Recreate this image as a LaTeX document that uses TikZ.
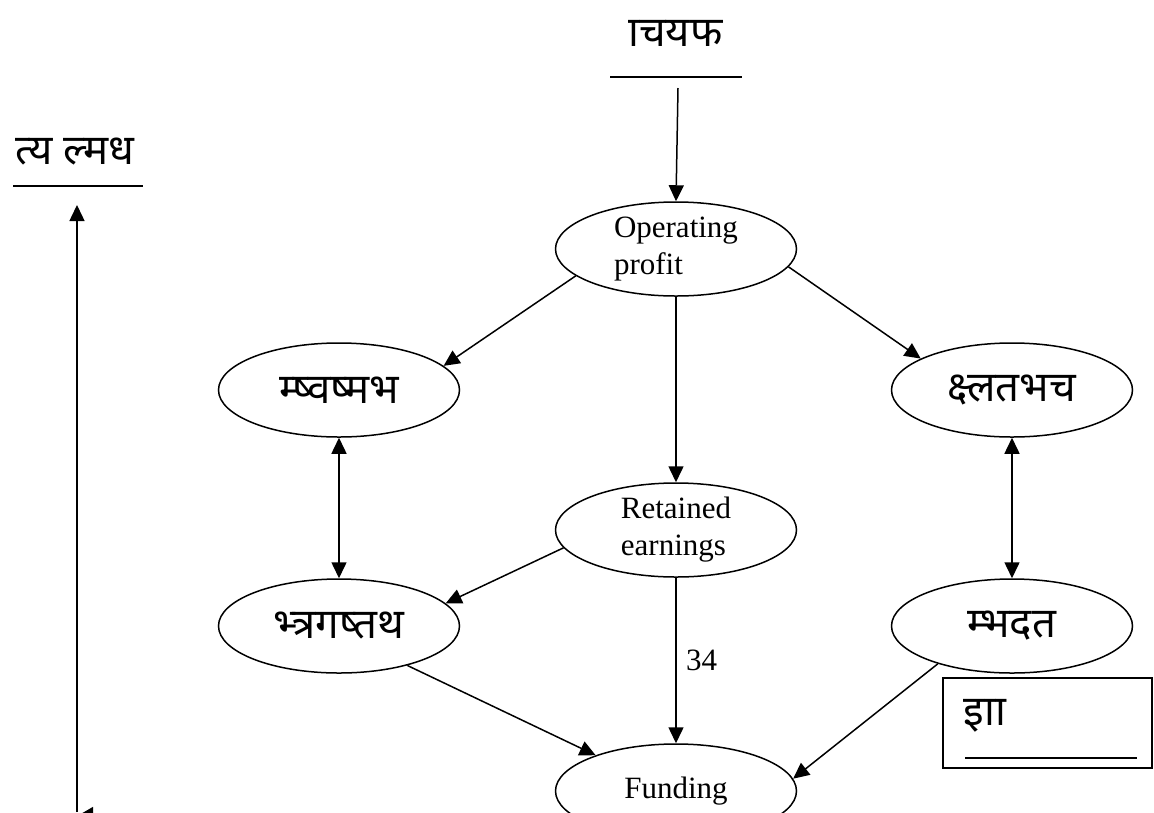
\documentclass[tikz,border=0pt]{standalone}
\usepackage{fontspec}
\setmainfont{Liberation Serif}
\newfontfamily\deva[Script=Devanagari]{Noto Sans}
\usetikzlibrary{shapes.geometric,arrows.meta}
\begin{document}
\begin{tikzpicture}[x=1pt,y=-1pt,line width=1.5pt,
  oval/.style={draw,ellipse,minimum width=241pt,minimum height=94pt,inner sep=0pt},
  arr/.style={-{Triangle[length=16pt,width=15pt]}},
  darr/.style={{Triangle[length=16pt,width=15pt]}-{Triangle[length=16pt,width=15pt]}},
  lat/.style={font=\fontsize{31}{37}\selectfont,align=left},
  dev/.style={font=\deva\fontsize{42}{50}\selectfont,inner sep=0pt},
  rule/.style={line width=2.2pt}]
\clip (0,0) rectangle (1154,812);
\fill[white] (0,0) rectangle (1154,812);

% ellipses
\node[oval,lat] (op) at (676,249) {Operating\\profit};
\node[oval,lat] (re) at (676,530) {Retained\\earnings};
\node[oval,lat] (fund) at (676,791) {Funding};
\node[oval,dev] (lu) at (339,390) {म्ष्वष्मभ};
\node[oval,dev] (ru) at (1012,390) {क्ष्लतभच};
\node[oval,dev] (ll) at (339,626) {भ्त्रगष्तथ};
\node[oval,dev] (rl) at (1012,626) {म्भदत};

% free texts
\node[dev] (toptxt) at (670,33) {^^^^00a0ाचयफ};
\draw[rule] (610,77) -- (742,77);
\node[dev] (lefttxt) at (75,152) {त्य ल्मध};
\draw[rule] (13,186) -- (143,186);

% box
\draw (943,678) rectangle (1152,768);
\node[dev,anchor=west] (boxtxt) at (963,716) {इाा};
\draw[rule] (965,758) -- (1137,758);

% connectors
\coordinate (topstart) at (678,88);
\draw[arr] (topstart) -- (op.north);
\draw[arr] (op.195) -- (lu.13);
\draw[arr] (op.351) -- (ru.161);
\draw[arr] (op.south) -- (re.north);
\draw[darr] (lu.south) -- (ll.north);
\draw[darr] (ru.south) -- (rl.north);
\draw[arr] (re.189) -- (ll.12);
\draw[arr] (re.south) -- node[lat,right=6pt,pos=0.5] (lbl) {34} (fund.north);
\draw[arr] (ll.330) -- (fund.156);
\draw[arr] (rl.207) -- (fund.6);

% left long arrow
\coordinate (lbot) at (77,812);
\coordinate (ltop) at (77,205);
\draw[arr] (lbot) -- (ltop);
\coordinate (bh1) at (115,815);
\coordinate (bh2) at (79,815);
\draw[-{Triangle[length=14pt,width=16pt]}] (bh1) -- (bh2);
\end{tikzpicture}
\end{document}
